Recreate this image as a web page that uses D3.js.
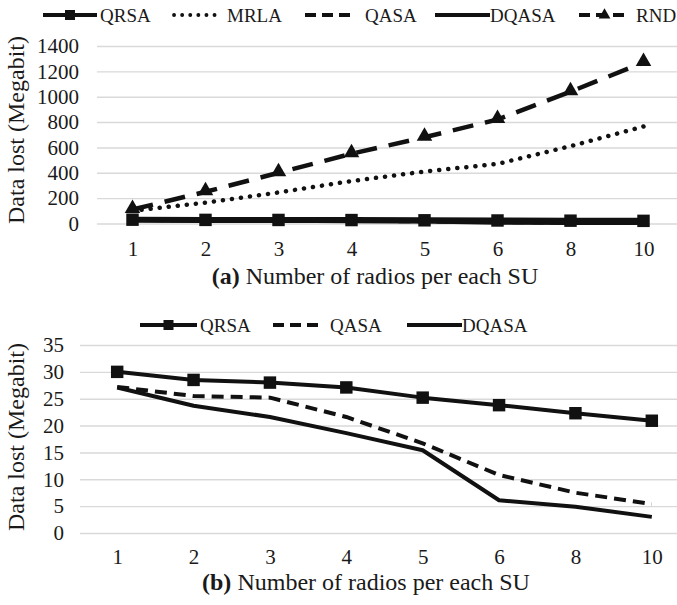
<!DOCTYPE html>
<html>
<head>
<meta charset="utf-8">
<script src="https://cdn.jsdelivr.net/npm/d3@7"></script>
<style>
  body { margin: 0; background: #fff; }
  text { font-family: "Liberation Serif", "Times New Roman", serif; fill: #1a1a1a; }
</style>
</head>
<body>
<script>
// data
var radios = ["1", "2", "3", "4", "5", "6", "8", "10"];
var qrsa  = [30, 28.5, 28, 27.1, 25.2, 23.8, 22.3, 20.9];
var qasa  = [27.2, 25.5, 25.2, 21.6, 16.7, 10.8, 7.5, 5.4];
var dqasa = [27.1, 23.7, 21.6, 18.6, 15.4, 6.1, 4.9, 3.0];
var mrla  = [100, 165, 245, 335, 410, 470, 610, 765];
var rnd   = [110, 250, 400, 550, 680, 820, 1040, 1270];
var ticksA = [0, 200, 400, 600, 800, 1000, 1200, 1400];
var ticksB = [0, 5, 10, 15, 20, 25, 30, 35];

var ink = "#111";
var W = 677, H = 605;

var svg = d3.select("body").append("svg")
    .attr("width", W)
    .attr("height", H);

var styles = {
  QRSA:  { width: 5, dash: null, marker: "square" },
  MRLA:  { width: 4.5, dash: "0.1,9", marker: null },
  QASA:  { width: 4, dash: "12,7", marker: null },
  DQASA: { width: 4, dash: null, marker: null },
  RND:   { width: 4.5, dash: "21,12", marker: "triangle" }
};

var drawPanel = function(p) {
  var x = d3.scalePoint().domain(radios).range(p.xr).padding(0.5);
  var y = d3.scaleLinear().domain(p.ydom).range(p.yr);
  var g = svg.append("g");

  // gridlines + y labels
  g.append("g")
    .attr("transform", "translate(" + p.gridX + ",0)")
    .call(d3.axisLeft(y).tickValues(p.ticks).tickFormat(d3.format("d"))
      .tickSize(-(W - p.gridX)).tickPadding(p.gridX - p.labelX))
    .call(function(a) {
      a.select(".domain").remove();
      a.selectAll("line").attr("stroke", "#d9d9d9").attr("stroke-width", 1.4);
      a.selectAll("text").attr("font-size", 21).attr("font-family", null).attr("fill", "#1a1a1a");
    });

  // x labels
  g.append("g")
    .attr("transform", "translate(0," + y(0) + ")")
    .call(d3.axisBottom(x).tickSize(0).tickPadding(p.xPad))
    .call(function(a) {
      a.select(".domain").remove();
      a.selectAll("text").attr("font-size", 21).attr("font-family", null).attr("fill", "#1a1a1a");
    });

  var line = d3.line()
    .x(function(d, i) { return x(radios[i]); })
    .y(function(d) { return y(d); });

  p.series.forEach(function(s) {
    var st = styles[s.name];
    g.append("path")
      .datum(s.values)
      .attr("d", line)
      .attr("fill", "none")
      .attr("stroke", ink)
      .attr("stroke-width", s.width || st.width)
      .attr("stroke-dasharray", s.dash || st.dash)
      .attr("stroke-linecap", s.name == "MRLA" ? "round" : "butt")
      .attr("stroke-linejoin", "round");

    if (st.marker) {
      var sym = st.marker == "square" ? d3.symbolSquare : d3.symbolTriangle;
      g.selectAll(null)
        .data(s.values)
        .enter()
        .append("path")
        .attr("d", d3.symbol(sym).size(st.marker == "square" ? 155 : 105))
        .attr("fill", ink)
        .attr("transform", function(d, i) {
          return "translate(" + x(radios[i]) + "," + (y(d) - (st.marker == "triangle" ? 1 : 0)) + ")";
        });
    }
  });

  // y title
  g.append("text")
    .attr("transform", "translate(" + p.yTitle[0] + "," + p.yTitle[1] + ") rotate(-90)")
    .attr("text-anchor", "middle")
    .attr("dy", "0.35em")
    .attr("font-size", 24)
    .text("Data lost (Megabit)");

  // x title
  var t = g.append("text")
    .attr("x", p.xTitle[0])
    .attr("y", p.xTitle[1])
    .attr("dy", "0.35em")
    .attr("text-anchor", "middle")
    .attr("font-size", 24);
  t.append("tspan").attr("font-weight", "bold").text(p.tag);
  t.append("tspan").text(" Number of radios per each SU");

  // legend
  var lg = g.append("g");
  p.legend.forEach(function(it) {
    var st = styles[it.name];
    var ly = p.legendY;
    lg.append("line")
      .attr("x1", it.x0).attr("x2", it.x1)
      .attr("y1", ly).attr("y2", ly)
      .attr("stroke", ink)
      .attr("stroke-width", it.name == "MRLA" ? 3.8 : 4)
      .attr("stroke-dasharray", it.name == "MRLA" ? "0.1,8" : (st.dash ? "11,6" : null))
      .attr("stroke-linecap", it.name == "MRLA" ? "round" : "butt");
    if (st.marker) {
      var sym = st.marker == "square" ? d3.symbolSquare : d3.symbolTriangle;
      lg.append("path")
        .attr("d", d3.symbol(sym).size(st.marker == "square" ? 100 : 60))
        .attr("fill", ink)
        .attr("transform", "translate(" + ((it.x0 + it.x1) / 2) + "," + ly + ")");
    }
    lg.append("text")
      .attr("x", it.tx)
      .attr("y", ly)
      .attr("dy", "0.35em")
      .attr("font-size", 19)
      .text(it.name);
  });
};

drawPanel({
  xr: [96, 680], ydom: [0, 1400], yr: [223.5, 46], ticks: ticksA,
  gridX: 97, labelX: 79, xPad: 18,
  yTitle: [16, 130], xTitle: [375, 276], tag: "(a)",
  legendY: 15,
  legend: [
    { name: "QRSA", x0: 43, x1: 97, tx: 100 },
    { name: "MRLA", x0: 174, x1: 218, tx: 227 },
    { name: "QASA", x0: 305, x1: 354, tx: 365 },
    { name: "DQASA", x0: 435, x1: 490, tx: 490 },
    { name: "RND", x0: 579, x1: 630, tx: 636 }
  ],
  series: [
    { name: "DQASA", values: dqasa },
    { name: "QASA", values: qasa },
    { name: "MRLA", values: mrla },
    { name: "RND", values: rnd },
    { name: "QRSA", values: qrsa, width: 6 }
  ]
});

drawPanel({
  xr: [79, 690], ydom: [0, 35], yr: [533, 345], ticks: ticksB,
  gridX: 80, labelX: 64, xPad: 16,
  yTitle: [16, 437], xTitle: [366, 582], tag: "(b)",
  legendY: 325,
  legend: [
    { name: "QRSA", x0: 140, x1: 197, tx: 200 },
    { name: "QASA", x0: 273, x1: 322, tx: 330 },
    { name: "DQASA", x0: 407, x1: 462, tx: 462 }
  ],
  series: [
    { name: "DQASA", values: dqasa, width: 4 },
    { name: "QASA", values: qasa, width: 4 },
    { name: "QRSA", values: qrsa, width: 4 }
  ]
});
</script>
</body>
</html>
